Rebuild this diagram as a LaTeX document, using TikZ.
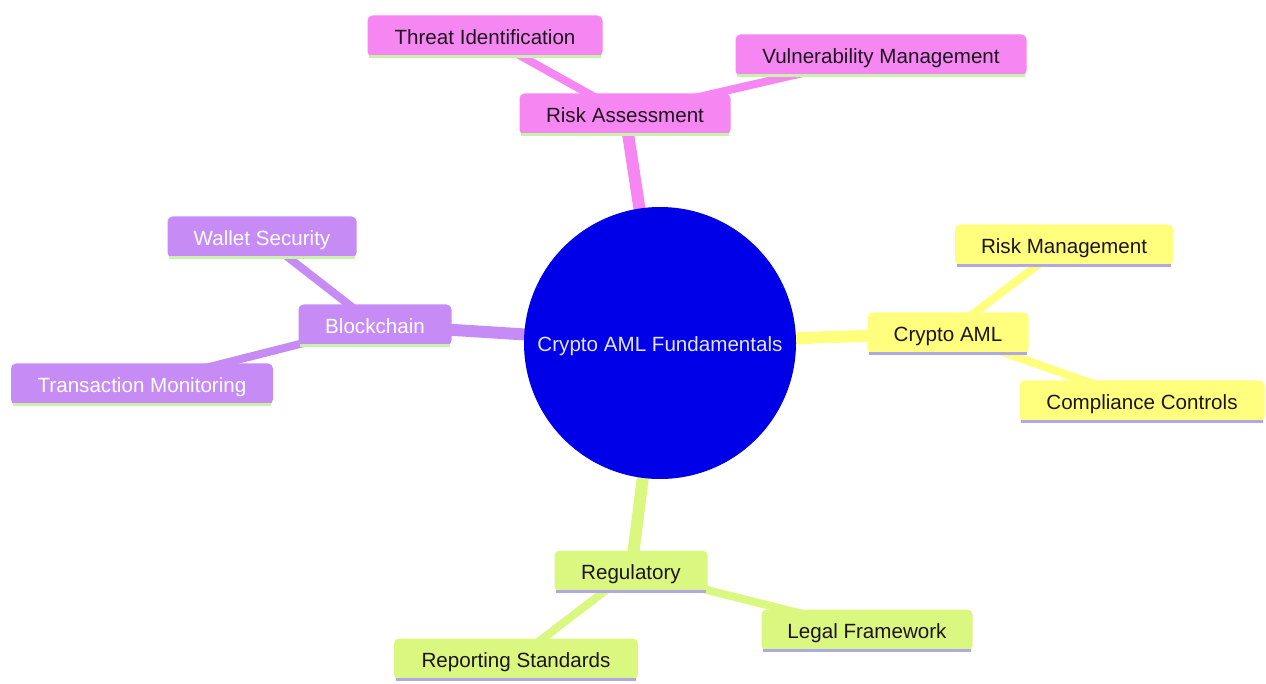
\documentclass[tikz,border=0pt]{standalone}
\usepackage{fontspec}
\setmainfont{Liberation Sans}
\usetikzlibrary{backgrounds}
\definecolor{cpink}{RGB}{246,135,242}
\definecolor{cpurple}{RGB}{199,139,246}
\definecolor{cyellow}{RGB}{255,255,125}
\definecolor{cgreen}{RGB}{218,248,128}
\definecolor{cblue}{RGB}{0,0,232}
\definecolor{ulgreen}{RGB}{200,242,170}
\definecolor{ullav}{RGB}{176,168,228}
\definecolor{darktxt}{RGB}{30,20,30}
\tikzset{
  box/.style={rectangle, rounded corners=5pt, minimum height=41pt, inner sep=0pt,
    text height=16.8pt, text depth=0pt,
    font=\fontsize{20.6}{24}\selectfont},
  pinkbox/.style={box, fill=cpink, text=darktxt},
  purplebox/.style={box, fill=cpurple, text=white},
  yellowbox/.style={box, fill=cyellow, text=darktxt},
  greenbox/.style={box, fill=cgreen, text=darktxt},
  mainedge/.style={line width=12pt},
  subedge/.style={line width=8pt},
  underline/.style={line width=3pt},
}
\begin{document}
\begin{tikzpicture}[x=1pt,y=-1pt]
\useasboundingbox (0,0) rectangle (1266,684);
% nodes
\node[circle, fill=cblue, minimum size=272pt, inner sep=0pt, text={rgb,255:red,228;green,228;blue,245},
  text height=16.8pt, text depth=0pt,
  font=\fontsize{20.6}{24}\selectfont] (root) at (660,343) {Crypto AML Fundamentals};
\node[pinkbox, minimum width=211pt] (ra) at (625,114) {Risk Assessment};
\node[pinkbox, minimum width=235pt] (ti) at (485,36) {Threat Identification};
\node[pinkbox, minimum width=291pt] (vm) at (881,55) {Vulnerability Management};
\node[purplebox, minimum width=153pt] (bc) at (375,325) {Blockchain};
\node[purplebox, minimum width=189pt] (ws) at (262,237) {Wallet Security};
\node[purplebox, minimum width=262pt] (tm) at (142,384) {Transaction Monitoring};
\node[yellowbox, minimum width=161pt] (ca) at (948,333) {Crypto AML};
\node[yellowbox, minimum width=218pt] (rm) at (1064,245) {Risk Management};
\node[yellowbox, minimum width=245pt] (cc) at (1142,401) {Compliance Controls};
\node[greenbox, minimum width=153pt] (rg) at (631,571) {Regulatory};
\node[greenbox, minimum width=211pt] (lf) at (867,630) {Legal Framework};
\node[greenbox, minimum width=244pt] (rs) at (516,659) {Reporting Standards};
% underlines
\foreach \n in {ra,ti,vm,bc,ws,tm}
  \draw[underline, ulgreen] ([xshift=2pt]\n.south west) -- ([xshift=-2pt]\n.south east);
\foreach \n in {ca,rm,cc,rg,lf,rs}
  \draw[underline, ullav] ([xshift=2pt]\n.south west) -- ([xshift=-2pt]\n.south east);
% edges behind
\begin{scope}[on background layer]
\fill[white] (0,0) rectangle (1266,684);
\draw[mainedge, cpink] (root.center) -- (ra.center);
\draw[subedge, cpink] (ra.center) -- (ti.center);
\draw[subedge, cpink] (ra.center) -- (vm.center);
\draw[mainedge, cpurple] (root.center) -- (bc.center);
\draw[subedge, cpurple] (bc.center) -- (ws.center);
\draw[subedge, cpurple] (bc.center) -- (tm.center);
\draw[mainedge, cyellow] (root.center) -- (ca.center);
\draw[subedge, cyellow] (ca.center) -- (rm.center);
\draw[subedge, cyellow] (ca.center) -- (cc.center);
\draw[mainedge, cgreen] (root.center) -- (rg.center);
\draw[subedge, cgreen] (rg.center) -- (lf.center);
\draw[subedge, cgreen] (rg.center) -- (rs.center);
\end{scope}
\end{tikzpicture}
\end{document}
